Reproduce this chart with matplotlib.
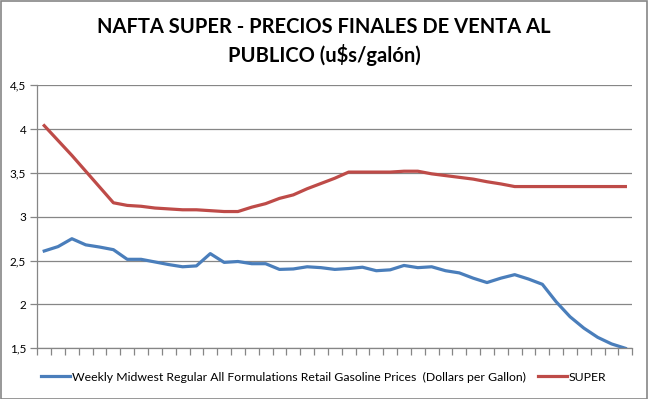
import matplotlib
matplotlib.use("Agg")
import matplotlib.pyplot as plt
from matplotlib.patches import Rectangle
import numpy as np

title = "NAFTA SUPER - PRECIOS FINALES DE VENTA AL\nPUBLICO (u$s/galón)"
series_names = ["Weekly Midwest Regular All Formulations Retail Gasoline Prices  (Dollars per Gallon)", "SUPER"]

midwest = [2.61, 2.66, 2.75, 2.68, 2.655, 2.625, 2.515, 2.515, 2.485, 2.455,
           2.43, 2.44, 2.58, 2.48, 2.49, 2.465, 2.465, 2.40, 2.405, 2.43,
           2.42, 2.40, 2.41, 2.425, 2.385, 2.395, 2.445, 2.42, 2.43, 2.385,
           2.36, 2.30, 2.25, 2.30, 2.34, 2.29, 2.23, 2.03, 1.86, 1.73,
           1.625, 1.55, 1.50]
super_ = [4.04, 3.87, 3.70, 3.52, 3.34, 3.16, 3.13, 3.12, 3.10, 3.09,
          3.08, 3.08, 3.07, 3.06, 3.06, 3.11, 3.15, 3.21, 3.25, 3.32,
          3.38, 3.44, 3.51, 3.51, 3.51, 3.51, 3.52, 3.52, 3.49, 3.47,
          3.45, 3.43, 3.40, 3.375, 3.345, 3.345, 3.345, 3.345, 3.345, 3.345,
          3.345, 3.345, 3.345]
yticks = [1.5, 2.0, 2.5, 3.0, 3.5, 4.0, 4.5]
ytick_labels = ["1,5", "2", "2,5", "3", "3,5", "4", "4,5"]

plt.rcParams['font.family'] = ['Lato', 'DejaVu Sans']

fig = plt.figure(figsize=(6.48, 3.99), dpi=100)
ax = fig.add_axes([37.3/648, 1-348.3/399, (632.3-37.3)/648, (348.3-85.3)/399])

x = np.arange(len(midwest))
ax.plot(x, midwest, color="#4A7EBB", lw=2.3, solid_joinstyle="round", label=series_names[0])
ax.plot(x, super_, color="#BE4B48", lw=2.3, solid_joinstyle="round", label=series_names[1])

ax.set_xlim(-0.5, len(midwest) - 0.5)
ax.set_ylim(1.5, 4.5)
ax.set_yticks(yticks)
ax.set_yticklabels(ytick_labels, fontsize=8.5)
ax.set_xticks(np.arange(-0.5, len(midwest), 1.0))
ax.set_xticklabels([])
ax.grid(axis="y", color="#868686", lw=0.9)
ax.set_axisbelow(True)
for s in ["top", "right"]:
    ax.spines[s].set_visible(False)
for s in ["left", "bottom"]:
    ax.spines[s].set_color("#868686")
    ax.spines[s].set_linewidth(0.9)
ax.tick_params(axis="both", direction="out", color="#868686", length=5, width=0.9)
ax.tick_params(axis="y", pad=3)

fig.text(0.5, 1-41.5/399, title, ha="center", va="center", fontsize=14.5,
         fontweight="bold", linespacing=1.4)

leg = fig.legend(loc="center", bbox_to_anchor=(0.5, 1-377/399), ncol=2, frameon=False,
                 fontsize=8.85, handlelength=2.35, handletextpad=0.15, columnspacing=1.0)

fig.add_artist(Rectangle((0.001, 0.001), 0.997, 0.997, transform=fig.transFigure,
                         fill=False, edgecolor="#868686", lw=1.2))

fig.savefig("out.png", dpi=100)
